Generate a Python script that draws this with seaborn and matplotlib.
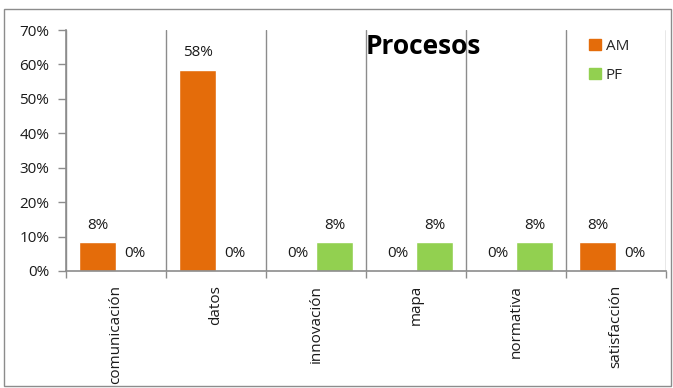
import matplotlib
matplotlib.use("Agg")
import matplotlib.pyplot as plt
import matplotlib.patches as mpatches
from matplotlib.ticker import FixedLocator, PercentFormatter
import seaborn as sns
import pandas as pd

categories = ["comunicación", "datos", "innovación", "mapa", "normativa", "satisfacción"]
am_values = [8.33, 58.33, 0, 0, 0, 8.33]
pf_values = [0, 0, 8.33, 8.33, 8.33, 0]
series_names = ["AM", "PF"]
yticks = [0, 10, 20, 30, 40, 50, 60, 70]
title = "Procesos"

colors = {"AM": "#E46C0A", "PF": "#92D050"}
axis_gray = "#8C8C8C"

df = pd.DataFrame({
    "categoria": categories * 2,
    "serie": [series_names[0]] * len(categories) + [series_names[1]] * len(categories),
    "valor": am_values + pf_values,
})

sns.set_theme(style="white")
plt.rcParams["font.family"] = ["Open Sans", "DejaVu Sans"]

fig = plt.figure(figsize=(6.73, 3.88), dpi=100)
ax = fig.add_axes([66 / 673, 1 - 271 / 388, 600 / 673, 241 / 388])

sns.barplot(data=df, x="categoria", y="valor", hue="serie", order=categories,
            hue_order=series_names, palette=colors, width=0.74, saturation=1,
            ax=ax, legend=False, errorbar=None)

for cont in ax.containers:
    ax.bar_label(cont, labels=[f"{v:.0f}%" for v in cont.datavalues],
                 padding=7, fontsize=11, color="#1a1a1a")

ax.set_xlim(-0.5, len(categories) - 0.5)
ax.set_ylim(0, 70)
ax.set_yticks(yticks)
ax.yaxis.set_major_formatter(PercentFormatter(decimals=0))
ax.set_xlabel("")
ax.set_ylabel("")

ax.set_xticks(range(len(categories)))
ax.set_xticklabels(categories, rotation=90, fontsize=11, color="#1a1a1a")
ax.xaxis.set_minor_locator(FixedLocator([i - 0.5 for i in range(len(categories) + 1)]))
ax.tick_params(axis="x", which="major", length=0, pad=10)
ax.tick_params(axis="x", which="minor", length=5, width=1, color=axis_gray, direction="out", bottom=True)
ax.tick_params(axis="y", length=6, width=1, color=axis_gray, direction="out", left=True,
               labelsize=11, labelcolor="#1a1a1a", pad=6)

ax.grid(False)
ax.xaxis.grid(True, which="minor", color=axis_gray, linewidth=1)

for s in ["top", "right"]:
    ax.spines[s].set_visible(False)
for s in ["left", "bottom"]:
    ax.spines[s].set_color(axis_gray)
    ax.spines[s].set_linewidth(1.2)

fig.text(423 / 673, 1 - 47 / 388, title, fontsize=19, fontweight="bold",
         ha="center", va="center", color="black")

handles = [mpatches.Patch(color=colors[s], label=s) for s in series_names]
fig.legend(handles=handles, loc="upper left", bbox_to_anchor=(575 / 673, 1 - 25 / 388),
           frameon=False, fontsize=11, handlelength=0.8, handleheight=0.8,
           handletextpad=0.3, labelspacing=0.9)

fig.patches.append(mpatches.Rectangle((4 / 673, 2 / 388), 667 / 673, 377 / 388,
                                      transform=fig.transFigure, fill=False,
                                      edgecolor=axis_gray, linewidth=1))

fig.savefig("out.png", dpi=100)
